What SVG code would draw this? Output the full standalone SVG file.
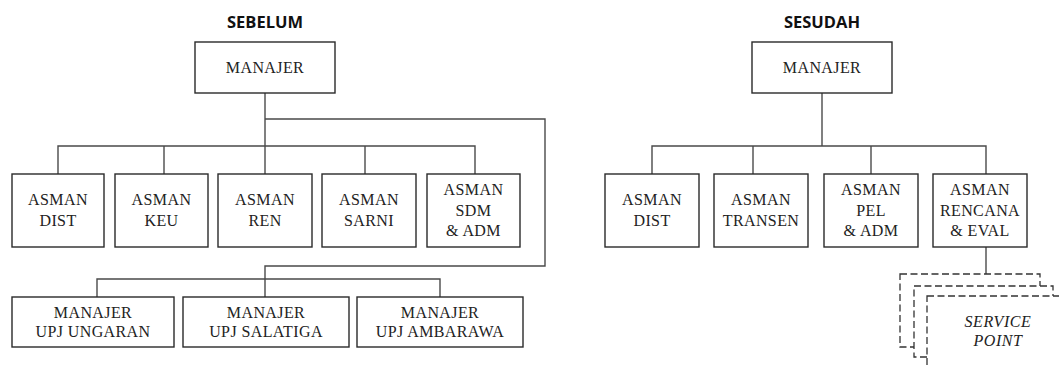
<svg xmlns="http://www.w3.org/2000/svg" width="1059" height="367" viewBox="0 0 1059 367">
  <style>
    .title { font-family: 'Open Sans', sans-serif; font-weight: bold; font-size: 16.5px; fill: #111; text-anchor: middle; }
    .box { fill: #fff; stroke: #2a2a2a; stroke-width: 1.4; }
    .lbl { font-family: 'Liberation Serif', serif !important; font-size: 16px; fill: #222; text-anchor: middle; letter-spacing: 0.4px; }
    .wire { fill: none; stroke: #4a4a4a; stroke-width: 1.4; }
    .dash { fill: #fff; stroke: #333; stroke-width: 1.3; stroke-dasharray: 7 3.5; }
    .ital { font-family: 'Liberation Serif', serif !important; font-style: italic; font-size: 16px; fill: #222; text-anchor: middle; letter-spacing: 0.6px; }
  </style>

  <!-- Titles -->
  <text class="title" x="265" y="28">SEBELUM</text>
  <text class="title" x="822" y="28">SESUDAH</text>

  <!-- Connectors -->
  <g id="connectors">
    <!-- before: manager to assistant managers -->
    <path class="wire" d="M265 93 V174"/>
    <path class="wire" d="M58 174 V146 H475 V174"/>
    <path class="wire" d="M164 146 V174"/>
    <path class="wire" d="M365 146 V174"/>
    <!-- before: manager to UPJ managers -->
    <path class="wire" d="M265 119 H545 V266 H265 V297"/>
    <path class="wire" d="M97 297 V279 H440 V297"/>
    <!-- after: manager to assistant managers -->
    <path class="wire" d="M822 93 V146"/>
    <path class="wire" d="M652 174 V146 H986 V174"/>
    <path class="wire" d="M753 146 V174"/>
    <path class="wire" d="M871 146 V174"/>
    <!-- after: planning to service points -->
    <path class="wire" d="M986 247 V274"/>
  </g>

  <!-- Before -->
  <g id="b-manajer">
    <rect class="box" x="195" y="42" width="140" height="51"/>
    <text class="lbl" style="font-family:'Liberation Serif',serif" x="265" y="73">MANAJER</text>
  </g>
  <g id="b-dist">
    <rect class="box" x="12" y="174" width="92" height="73"/>
    <text class="lbl" style="font-family:'Liberation Serif',serif" x="58" y="205">ASMAN</text>
    <text class="lbl" style="font-family:'Liberation Serif',serif" x="58" y="226">DIST</text>
  </g>
  <g id="b-keu">
    <rect class="box" x="115" y="174" width="93" height="73"/>
    <text class="lbl" style="font-family:'Liberation Serif',serif" x="161.5" y="205">ASMAN</text>
    <text class="lbl" style="font-family:'Liberation Serif',serif" x="161.5" y="226">KEU</text>
  </g>
  <g id="b-ren">
    <rect class="box" x="218" y="174" width="94" height="73"/>
    <text class="lbl" style="font-family:'Liberation Serif',serif" x="265" y="205">ASMAN</text>
    <text class="lbl" style="font-family:'Liberation Serif',serif" x="265" y="226">REN</text>
  </g>
  <g id="b-sarni">
    <rect class="box" x="322" y="174" width="94" height="73"/>
    <text class="lbl" style="font-family:'Liberation Serif',serif" x="369" y="205">ASMAN</text>
    <text class="lbl" style="font-family:'Liberation Serif',serif" x="369" y="226">SARNI</text>
  </g>
  <g id="b-sdm">
    <rect class="box" x="427" y="174" width="93" height="73"/>
    <text class="lbl" style="font-family:'Liberation Serif',serif" x="473.5" y="195">ASMAN</text>
    <text class="lbl" style="font-family:'Liberation Serif',serif" x="473.5" y="215.5">SDM</text>
    <text class="lbl" style="font-family:'Liberation Serif',serif" x="473.5" y="236">&amp; ADM</text>
  </g>
  <g id="b-ungaran">
    <rect class="box" x="12" y="297" width="162" height="50"/>
    <text class="lbl" style="font-family:'Liberation Serif',serif" x="93" y="318">MANAJER</text>
    <text class="lbl" style="font-family:'Liberation Serif',serif" x="93" y="337">UPJ UNGARAN</text>
  </g>
  <g id="b-salatiga">
    <rect class="box" x="183" y="297" width="166" height="50"/>
    <text class="lbl" style="font-family:'Liberation Serif',serif" x="266" y="318">MANAJER</text>
    <text class="lbl" style="font-family:'Liberation Serif',serif" x="266" y="337">UPJ SALATIGA</text>
  </g>
  <g id="b-ambarawa">
    <rect class="box" x="357" y="297" width="166" height="50"/>
    <text class="lbl" style="font-family:'Liberation Serif',serif" x="440" y="318">MANAJER</text>
    <text class="lbl" style="font-family:'Liberation Serif',serif" x="440" y="337">UPJ AMBARAWA</text>
  </g>

  <!-- After -->
  <g id="a-manajer">
    <rect class="box" x="752" y="42" width="140" height="51"/>
    <text class="lbl" style="font-family:'Liberation Serif',serif" x="822" y="73">MANAJER</text>
  </g>
  <g id="a-dist">
    <rect class="box" x="605" y="174" width="94" height="73"/>
    <text class="lbl" style="font-family:'Liberation Serif',serif" x="652" y="205">ASMAN</text>
    <text class="lbl" style="font-family:'Liberation Serif',serif" x="652" y="226">DIST</text>
  </g>
  <g id="a-transen">
    <rect class="box" x="714" y="174" width="94" height="73"/>
    <text class="lbl" style="font-family:'Liberation Serif',serif" x="761" y="205">ASMAN</text>
    <text class="lbl" style="font-family:'Liberation Serif',serif" x="761" y="226">TRANSEN</text>
  </g>
  <g id="a-pel">
    <rect class="box" x="824" y="174" width="94" height="73"/>
    <text class="lbl" style="font-family:'Liberation Serif',serif" x="871" y="195">ASMAN</text>
    <text class="lbl" style="font-family:'Liberation Serif',serif" x="871" y="215.5">PEL</text>
    <text class="lbl" style="font-family:'Liberation Serif',serif" x="871" y="236">&amp; ADM</text>
  </g>
  <g id="a-rencana">
    <rect class="box" x="933" y="174" width="94" height="73"/>
    <text class="lbl" style="font-family:'Liberation Serif',serif" x="980" y="195">ASMAN</text>
    <text class="lbl" style="font-family:'Liberation Serif',serif" x="980" y="215.5">RENCANA</text>
    <text class="lbl" style="font-family:'Liberation Serif',serif" x="980" y="236">&amp; EVAL</text>
  </g>
  <g id="a-service-point">
    <rect class="dash" x="900" y="274" width="140" height="73"/>
    <rect class="dash" x="914" y="286" width="139" height="71"/>
    <rect class="dash" x="927" y="296" width="140" height="73"/>
    <text class="ital" style="font-family:'Liberation Serif',serif" x="998" y="327">SERVICE</text>
    <text class="ital" style="font-family:'Liberation Serif',serif" x="998" y="346">POINT</text>
  </g>
</svg>
